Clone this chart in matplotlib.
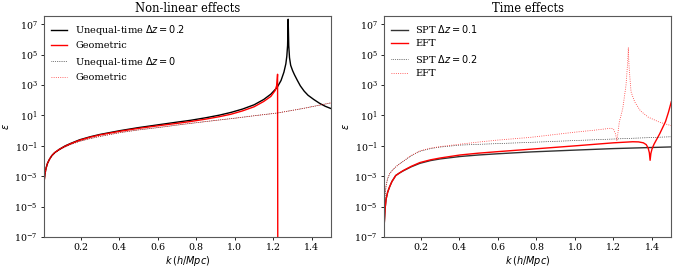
import numpy as np
import matplotlib
matplotlib.use("Agg")
import matplotlib.pyplot as plt

plt.rcParams["font.family"] = "serif"
plt.rcParams["font.serif"] = ["DejaVu Serif"]

# ---- left panel: non-linear effects (values are log10 eps)
k_ut02 = [0.011, 0.015, 0.02, 0.028, 0.038, 0.05, 0.065, 0.09, 0.12, 0.15,
          0.195, 0.25, 0.3, 0.404, 0.5, 0.6, 0.7, 0.77, 0.85, 0.92, 0.98,
          1.04, 1.1, 1.15, 1.187, 1.22, 1.24, 1.255, 1.265, 1.27, 1.274,
          1.277, 1.280, 1.284, 1.29, 1.3, 1.31, 1.325, 1.34, 1.36, 1.38,
          1.41, 1.44, 1.47, 1.5]
le_ut02 = [-3.3, -2.85, -2.5, -2.15, -1.89, -1.65, -1.45, -1.22, -1.0, -0.83,
           -0.6, -0.4, -0.25, 0.0, 0.2, 0.38, 0.56, 0.68, 0.85, 1.02, 1.2,
           1.42, 1.7, 2.05, 2.4, 2.85, 3.3, 3.85, 4.4, 4.9, 5.6,
           7.33, 5.6, 4.8, 4.3, 3.95, 3.67, 3.3, 2.95, 2.6, 2.33,
           2.05, 1.8, 1.6, 1.45]

k_geo02 = [0.011, 0.015, 0.02, 0.028, 0.038, 0.05, 0.065, 0.09, 0.12, 0.15,
           0.195, 0.25, 0.3, 0.404, 0.5, 0.6, 0.7, 0.77, 0.85, 0.92, 0.98,
           1.04, 1.1, 1.15, 1.187, 1.21, 1.218, 1.222, 1.2235]
le_geo02 = [-3.3, -2.85, -2.5, -2.15, -1.89, -1.65, -1.45, -1.23, -1.02, -0.85,
            -0.63, -0.43, -0.28, -0.04, 0.15, 0.32, 0.48, 0.6, 0.76, 0.92, 1.08,
            1.3, 1.57, 1.92, 2.25, 2.65, 3.0, 3.71, -12.0]

k_ut0 = [0.011, 0.015, 0.02, 0.028, 0.038, 0.05, 0.065, 0.09, 0.12, 0.15,
         0.195, 0.25, 0.3, 0.404, 0.5, 0.6, 0.72, 0.85, 1.0, 1.1, 1.22,
         1.35, 1.5]
le_ut0 = [-3.3, -2.85, -2.5, -2.15, -1.9, -1.67, -1.48, -1.26, -1.06, -0.9,
          -0.7, -0.52, -0.38, -0.13, 0.05, 0.2, 0.4, 0.6, 0.82, 0.98, 1.16,
          1.45, 1.83]

# ---- right panel: time effects
k_spt01 = [0.011, 0.015, 0.02, 0.028, 0.038, 0.05, 0.07, 0.09, 0.108, 0.15,
           0.195, 0.25, 0.3, 0.404, 0.5, 0.6, 0.77, 1.0, 1.2, 1.5]
le_spt01 = [-6.0, -5.1, -4.5, -4.05, -3.7, -3.35, -2.95, -2.78, -2.65, -2.38,
            -2.15, -1.97, -1.86, -1.7, -1.6, -1.52, -1.4, -1.28, -1.18, -1.07]

k_eft01 = [0.011, 0.015, 0.02, 0.028, 0.038, 0.05, 0.07, 0.09, 0.108, 0.15,
           0.195, 0.25, 0.3, 0.404, 0.5, 0.6, 0.77, 1.0, 1.2, 1.3, 1.33,
           1.355, 1.37, 1.38, 1.386, 1.39, 1.394, 1.40, 1.41, 1.425, 1.44,
           1.455, 1.47, 1.485, 1.5]
le_eft01 = [-6.0, -5.1, -4.5, -4.05, -3.7, -3.35, -2.95, -2.78, -2.63, -2.35,
            -2.1, -1.92, -1.8, -1.6, -1.48, -1.38, -1.22, -1.0, -0.8, -0.73, -0.74,
            -0.8, -0.92, -1.15, -1.45, -1.95, -1.5, -1.2, -0.9, -0.55, -0.2,
            0.2, 0.6, 1.2, 1.9]

k_spt02 = [0.011, 0.015, 0.02, 0.028, 0.04, 0.06, 0.08, 0.108, 0.15, 0.195,
           0.25, 0.3, 0.404, 0.5, 0.6, 0.77, 1.0, 1.2, 1.5]
le_spt02 = [-5.0, -4.2, -3.6, -3.15, -2.8, -2.5, -2.28, -2.02, -1.65, -1.36,
            -1.18, -1.08, -0.95, -0.9, -0.85, -0.77, -0.65, -0.55, -0.4]

k_eft02 = [0.011, 0.015, 0.02, 0.028, 0.04, 0.06, 0.08, 0.108, 0.15, 0.195,
           0.25, 0.3, 0.404, 0.5, 0.6, 0.77, 1.0, 1.1, 1.187, 1.2, 1.21,
           1.218, 1.23, 1.248, 1.265, 1.274, 1.277, 1.280, 1.284, 1.291, 1.31,
           1.34, 1.38, 1.44, 1.5]
le_eft02 = [-5.0, -4.2, -3.6, -3.15, -2.8, -2.5, -2.28, -2.02, -1.63, -1.33,
            -1.15, -1.05, -0.89, -0.75, -0.62, -0.44, -0.1, 0.03, 0.16, 0.1, -0.2,
            -0.67, 0.56, 1.45, 3.0, 4.56, 5.45, 4.4, 3.67, 2.56, 1.89,
            1.3, 0.89, 0.55, 0.33]

yticks = [1e-7, 1e-5, 1e-3, 1e-1, 1e1, 1e3, 1e5, 1e7]
xticks = [0.2, 0.4, 0.6, 0.8, 1.0, 1.2, 1.4]


def eps(le):
    return 10.0 ** np.asarray(le)


fig = plt.figure(figsize=(6.74, 2.70), dpi=100)
ax1 = fig.add_axes([0.0653, 0.122, 0.426, 0.818])
ax2 = fig.add_axes([0.570, 0.122, 0.426, 0.818])

ax1.plot(k_ut02, eps(le_ut02), color="black", lw=1.0,
         label=r"Unequal-time $\Delta z = 0.2$")
ax1.plot(k_geo02, eps(le_geo02), color="red", lw=1.0, label="Geometric")
ax1.plot(k_ut0, eps(le_ut0), color="black", lw=0.5, ls=":",
         label=r"Unequal-time $\Delta z = 0$")
ax1.plot(k_ut0, eps(le_ut0), color="red", lw=0.6, ls=":", alpha=0.8,
         label="Geometric")
ax1.set_title("Non-linear effects", fontsize=8.3, pad=3)

ax2.plot(k_spt01, eps(le_spt01), color="black", lw=1.0, alpha=0.8,
         label=r"SPT $\Delta z = 0.1$")
ax2.plot(k_eft01, eps(le_eft01), color="red", lw=1.0, label="EFT")
ax2.plot(k_spt02, eps(le_spt02), color="black", lw=0.5, ls=":",
         label=r"SPT $\Delta z = 0.2$")
ax2.plot(k_eft02, eps(le_eft02), color="red", lw=0.6, ls=":", alpha=0.8,
         label="EFT")
ax2.set_title("Time effects", fontsize=8.3, pad=3)

for ax in (ax1, ax2):
    ax.set_yscale("log")
    ax.set_xlim(0.01, 1.5)
    ax.set_ylim(1e-7, 10 ** 7.53)
    ax.set_yticks(yticks)
    ax.set_xticks(xticks)
    ax.tick_params(labelsize=6.8, length=2.5, width=0.6, pad=2)
    ax.minorticks_off()
    ax.set_xlabel(r"$k\,(h/Mpc)$", fontsize=7, labelpad=1)
    ax.set_ylabel(r"$\epsilon$", fontsize=7)
    ax.yaxis.set_label_coords(-0.115, 0.5)
    for s in ax.spines.values():
        s.set_color("0.35")
        s.set_linewidth(0.8)
    ax.legend(loc="upper left", frameon=False, fontsize=7,
              handlelength=1.7, labelspacing=0.45, borderaxespad=0.3)

fig.savefig("out.png", dpi=100)
